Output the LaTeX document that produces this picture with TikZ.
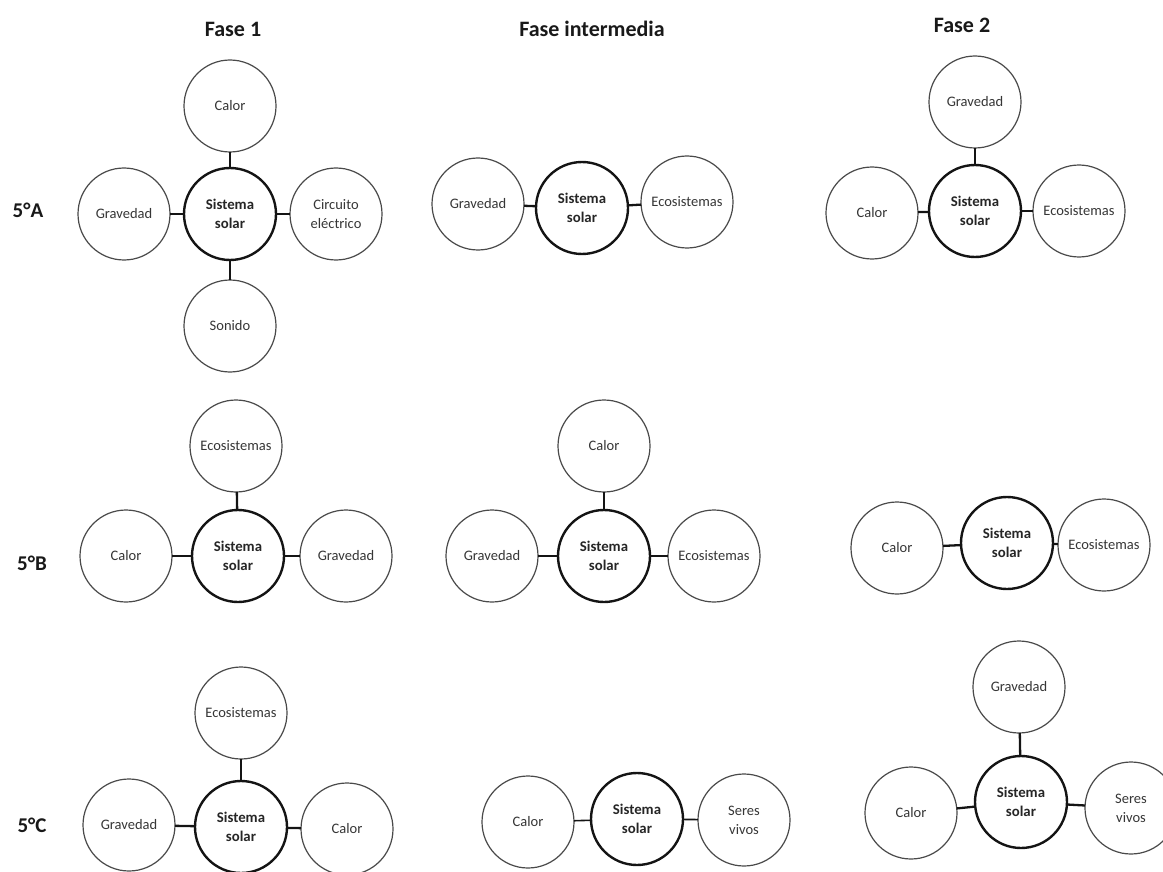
\documentclass[tikz,border=0pt]{standalone}
\usepackage{fontspec}
\setmainfont{Carlito}
\usetikzlibrary{positioning}
\definecolor{solink}{HTML}{141414}
\definecolor{temaink}{HTML}{4A4A4A}
\definecolor{temtext}{HTML}{363636}
\tikzset{
  tema/.style={circle, draw=temaink, line width=1.2pt, fill=white, minimum size=92pt,
    inner sep=0pt, outer sep=0pt, align=center, text=temtext,
    font=\fontsize{14.5}{19}\selectfont},
  sol/.style={tema, draw=solink, line width=2.4pt, text=black!85,
    font=\fontsize{14.8}{19.5}\selectfont\bfseries},
  link/.style={draw=solink, line width=2.3pt},
  fase/.style={font=\fontsize{22}{25}\selectfont\bfseries, text=black!90},
  curso/.style={font=\fontsize{21}{24}\selectfont\bfseries, text=black!90},
}
\begin{document}
\begin{tikzpicture}[x=1pt, y=-1pt, node distance=15pt]
\useasboundingbox (0,0) rectangle (1163,872);

% ---- column heads ----------------------------------------------------
\node[fase] (fase1) at (233,29) {Fase 1};
\node[fase] (faseI) at (592,29) {Fase intermedia};
\node[fase] (fase2) at (962,25) {Fase 2};

% ---- 5°A -------------------------------------------------------------
\node[curso] (cursoA) at (28,210) {5°A};

\node[sol] (solA1) at (230,214) {Sistema\\solar};
\node[tema, above=16pt of solA1] (calA1) {Calor};
\node[tema, left=14pt of solA1] (graA1) {Gravedad};
\node[tema, right=14pt of solA1] (cirA1) {Circuito\\eléctrico};
\node[tema, below=20pt of solA1] (sonA1) {Sonido};
\draw[link] (solA1) -- (calA1);
\draw[link] (solA1) -- (graA1);
\draw[link] (solA1) -- (cirA1);
\draw[link] (solA1) -- (sonA1);

\node[sol] (solAI) at (582,208) {Sistema\\solar};
\node[tema, left=12pt of solAI, yshift=4pt] (graAI) {Gravedad};
\node[tema, right=13pt of solAI, yshift=6pt] (ecoAI) {Ecosistemas};
\draw[link] (solAI) -- (graAI);
\draw[link] (solAI) -- (ecoAI);

\node[sol] (solA2) at (975,211) {Sistema\\solar};
\node[tema, above=17pt of solA2] (graA2) {Gravedad};
\node[tema, left=11pt of solA2, yshift=-2pt] (calA2) {Calor};
\node[tema, right=12pt of solA2] (ecoA2) {Ecosistemas};
\draw[link] (solA2) -- (graA2);
\draw[link] (solA2) -- (calA2);
\draw[link] (solA2) -- (ecoA2);

% ---- 5°B -------------------------------------------------------------
\node[curso] (cursoB) at (32,563) {5°B};

\node[sol] (solB1) at (238,556) {Sistema\\solar};
\node[tema, above=18pt of solB1, xshift=-2pt] (ecoB1) {Ecosistemas};
\node[tema, left=20pt of solB1] (calB1) {Calor};
\node[tema, right=16pt of solB1] (graB1) {Gravedad};
\draw[link] (solB1) -- (ecoB1);
\draw[link] (solB1) -- (calB1);
\draw[link] (solB1) -- (graB1);

\node[sol] (solBI) at (604,556) {Sistema\\solar};
\node[tema, above=18pt of solBI] (calBI) {Calor};
\node[tema, left=20pt of solBI] (graBI) {Gravedad};
\node[tema, right=18pt of solBI] (ecoBI) {Ecosistemas};
\draw[link] (solBI) -- (calBI);
\draw[link] (solBI) -- (graBI);
\draw[link] (solBI) -- (ecoBI);

\node[sol] (solB2) at (1007,543) {Sistema\\solar};
\node[tema, left=18pt of solB2, yshift=-5pt] (calB2) {Calor};
\node[tema, right=5pt of solB2, yshift=-2pt] (ecoB2) {Ecosistemas};
\draw[link] (solB2) -- (calB2);
\draw[link] (solB2) -- (ecoB2);

% ---- 5°C -------------------------------------------------------------
\node[curso] (cursoC) at (32,825) {5°C};

\node[sol] (solC1) at (241,827) {Sistema\\solar};
\node[tema, above=22pt of solC1] (ecoC1) {Ecosistemas};
\node[tema, left=20pt of solC1, yshift=2pt] (graC1) {Gravedad};
\node[tema, right=14pt of solC1, yshift=-2pt] (calC1) {Calor};
\draw[link] (solC1) -- (ecoC1);
\draw[link] (solC1) -- (graC1);
\draw[link] (solC1) -- (calC1);

\node[sol] (solCI) at (637,819) {Sistema\\solar};
\node[tema, left=17pt of solCI, yshift=-3pt] (calCI) {Calor};
\node[tema, right=15pt of solCI, yshift=-1pt] (serCI) {Seres\\vivos};
\draw[link, line width=1.6pt] (solCI) -- (calCI);
\draw[link, line width=1.6pt] (solCI) -- (serCI);

\node[sol] (solC2) at (1021,802) {Sistema\\solar};
\node[tema, above=23pt of solC2, xshift=-2pt] (graC2) {Gravedad};
\node[tema, left=18pt of solC2, yshift=-11pt] (calC2) {Calor};
\node[tema, right=18pt of solC2, yshift=-6pt] (serC2) {Seres\\vivos};
\draw[link] (solC2) -- (graC2);
\draw[link] (solC2) -- (calC2);
\draw[link] (solC2) -- (serC2);

\end{tikzpicture}
\end{document}
